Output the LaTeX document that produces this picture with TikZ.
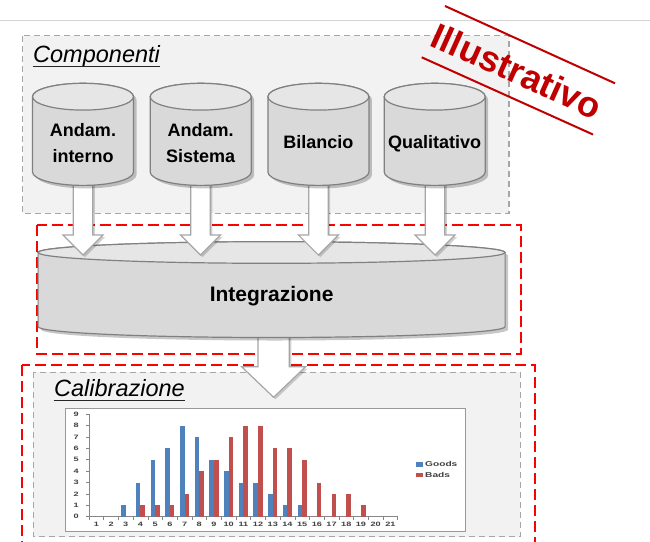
\documentclass[tikz,border=0pt]{standalone}
\usepackage{fontspec}
\setmainfont{Liberation Sans}
\newfontfamily\chartfont[FakeStretch=1.45]{Liberation Sans}
\usetikzlibrary{calc,shadows}
\definecolor{boxgray}{HTML}{F2F2F2}
\definecolor{dashgray}{HTML}{A6A6A6}
\definecolor{cylline}{HTML}{808080}
\definecolor{cylbody}{HTML}{D9D9D9}
\definecolor{cyltop}{HTML}{E6E6E6}
\definecolor{stampred}{HTML}{C00000}
\definecolor{goodsc}{HTML}{4F81BD}
\definecolor{badsc}{HTML}{C0504D}
\definecolor{arrline}{HTML}{A6A6A6}
\definecolor{ruleline}{HTML}{D4D4D4}
\definecolor{axisgray}{HTML}{868686}
\definecolor{ticktext}{HTML}{404040}
\tikzset{
  graybox/.style={fill=boxgray, draw=dashgray, line width=1.3pt, dash pattern=on 6pt off 4pt},
  redbox/.style={draw=red, line width=1.8pt, dash pattern=on 11pt off 5pt},
  cylbodystyle/.style={fill=cylbody, draw=cylline, line width=1.2pt,
    drop shadow={shadow xshift=3pt, shadow yshift=-3pt, opacity=0.22, fill=black}},
  cyltopstyle/.style={fill=cyltop, draw=cylline, line width=1.2pt},
  blockarr/.style={fill=white, draw=arrline, line width=1.2pt,
    drop shadow={shadow xshift=2pt, shadow yshift=-2pt, opacity=0.18, fill=black}},
  cyltext/.style={font=\fontsize{18}{26.7}\selectfont\bfseries, align=center, inner sep=0pt},
  titletext/.style={font=\fontsize{23.5}{28}\selectfont\itshape, inner sep=0pt, anchor=base west},
  ticklbl/.style={font=\chartfont\fontsize{6.3}{7}\selectfont\bfseries, text=ticktext, inner sep=0pt},
  legendlbl/.style={font=\chartfont\fontsize{7}{8}\selectfont\bfseries, text=ticktext, inner sep=0pt, anchor=west},
}
\newcommand\drawcyl[5]{%
  \path[cylbodystyle] (#1-#4,-#2) -- (#1-#4,-#3)
    arc[start angle=180,end angle=360,x radius=#4,y radius=#5] -- (#1+#4,-#2)
    arc[start angle=0,end angle=180,x radius=#4,y radius=#5] -- cycle;
  \path[cyltopstyle] (#1,-#2) ellipse[x radius=#4,y radius=#5];
}
\newcommand\blockarrow[5]{%
  \path[blockarr] ($(#1)+(-#3,0)$) -- ($(#2)+(-#3,#5)$) -- ($(#2)+(-#4,#5)$) -- (#2)
    -- ($(#2)+(#4,#5)$) -- ($(#2)+(#3,#5)$) -- ($(#1)+(#3,0)$) -- cycle;
}
\begin{document}
\begin{tikzpicture}[x=1pt,y=1pt]
\useasboundingbox (0,0) rectangle (650,-541);
% top rule
\coordinate (ruleL) at (0,-20.7);
\coordinate (ruleR) at (650,-20.7);
\draw[ruleline, line width=1.5pt] (ruleL) -- (ruleR);
% Componenti box
\path[graybox] (22.8,-35.7) rectangle (509,-213.3);
\node[titletext] (comp) at (33,-62.7) {Componenti};
\draw[line width=1.1pt, black!85] ($(comp.base west)+(-0.5,-4)$) -- ($(comp.base east)+(0,-4)$);
% Integration red box
\path[redbox] (37.3,-225) rectangle (520.7,-354.3);
% Calibrazione boxes
\path[redbox] (21.6,-365) rectangle (534.8,-560);
\path[graybox] (33.2,-372.3) rectangle (520.3,-536.7);
\node[titletext] (calib) at (54,-396) {Calibrazione};
\draw[line width=1.1pt, black!85] ($(calib.base west)+(-0.5,-4.7)$) -- ($(calib.base east)+(0,-4.7)$);
% chart
\draw[draw=black!40, fill=white, line width=0.8pt] (65.5,-408.3) rectangle (465.2,-531);
\draw[axisgray, line width=0.6pt] (89,-414) -- (89,-516.7) -- (397.7,-516.7);
\foreach \k in {0,...,9} {
  \draw[axisgray, line width=0.6pt] (86,{-516.7+\k*11.4}) -- (89,{-516.7+\k*11.4});
  \node[ticklbl, anchor=east] (yl\k) at (79,{-516.7+\k*11.4}) {\k};
}
\foreach \j in {0,...,21} {
  \draw[axisgray, line width=0.6pt] ({89+\j*14.7},-516.7) -- ({89+\j*14.7},-519.7);
}
\foreach \i in {1,...,21} {
  \node[ticklbl] (xl\i) at ({89+(\i-0.5)*14.7},-524.5) {\i};
}
\foreach \i/\v in {3/1,4/3,5/5,6/6,7/8,8/7,9/5,10/4,11/3,12/3,13/2,14/1,15/1} {
  \fill[goodsc] ({89+(\i-0.5)*14.7-4.6},-516.7) rectangle ++(4.6,{\v*11.4});
}
\foreach \i/\v in {4/1,5/1,6/1,7/2,8/4,9/5,10/7,11/8,12/8,13/6,14/6,15/5,16/3,17/2,18/2,19/1} {
  \fill[badsc] ({89+(\i-0.5)*14.7},-516.7) rectangle ++(4.6,{\v*11.4});
}
\fill[goodsc] (416,-462) rectangle ++(6.7,-4.5);
\node[legendlbl] (lgood) at (425,-464.3) {Goods};
\fill[badsc] (416,-472.8) rectangle ++(6.7,-4.5);
\node[legendlbl] (lbad) at (425,-475) {Bads};
% big arrow
\coordinate (bigs) at (273.6,-320);
\coordinate (bigt) at (273.6,-397.3);
\blockarrow{bigs}{bigt}{15.7}{32}{30.6}
% Integrazione cylinder
\drawcyl{271.6}{252.5}{326.7}{233.5}{10.8}
\node[font=\fontsize{21}{25}\selectfont\bfseries, inner sep=0pt, anchor=base] (integ) at (271.6,-301.7) {Integrazione};
% small arrows
\foreach \n/\cx in {1/83,2/200.5,3/318.4,4/435} {
  \coordinate (a\n s) at (\cx,-180);
  \coordinate (a\n t) at (\cx,-255);
  \blockarrow{a\n s}{a\n t}{9.75}{20}{20}
}
% component cylinders
\drawcyl{83}{96.7}{172}{50.5}{13.4}
\drawcyl{200.7}{96.7}{172}{50.5}{13.4}
\drawcyl{318.4}{96.7}{172}{50.5}{13.4}
\drawcyl{434.7}{96.7}{172}{50.5}{13.4}
\node[cyltext] (c1) at (83,-143) {Andam.\\interno};
\node[cyltext] (c2) at (200.7,-143) {Andam.\\Sistema};
\node[cyltext, anchor=base] (c3) at (318.4,-148.3) {Bilancio};
\node[cyltext, anchor=base] (c4) at (434.7,-148.3) {Qualitativo};
% stamp
\coordinate (s1a) at (445,-6);
\coordinate (s1b) at (615,-83.3);
\coordinate (s2a) at (421.7,-57.3);
\coordinate (s2b) at (593,-134.5);
\draw[stampred, line width=2pt] (s1a) -- (s1b);
\draw[stampred, line width=2pt] (s2a) -- (s2b);
\node[text=stampred, font=\fontsize{36}{40}\selectfont\bfseries, rotate=-24.2, inner sep=0pt] (stamp) at (517,-71) {Illustrativo};
\end{tikzpicture}
\end{document}
